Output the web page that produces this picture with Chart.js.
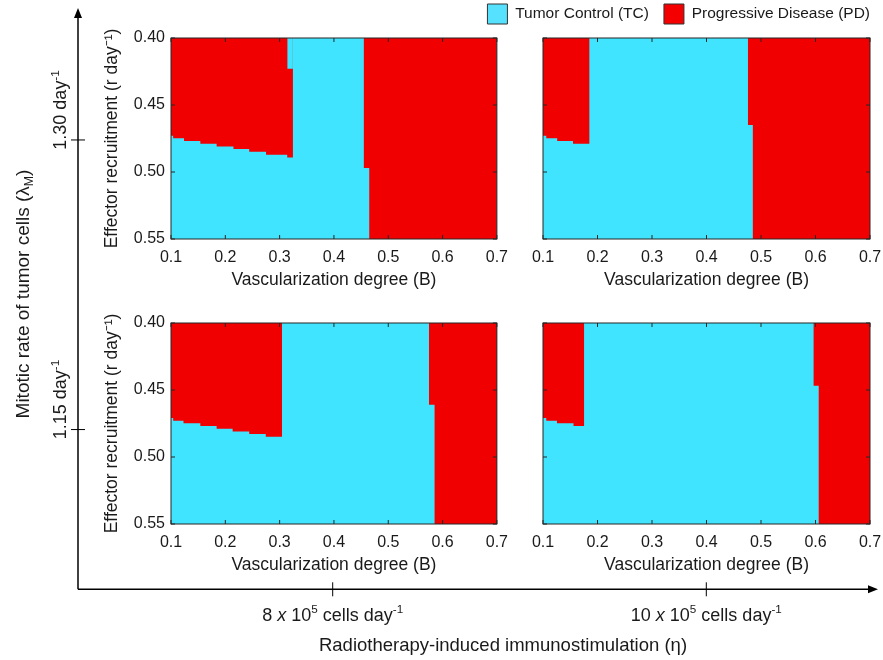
<!DOCTYPE html>
<html><head><meta charset="utf-8">
<script src="https://cdn.jsdelivr.net/npm/chart.js@4.4.1/dist/chart.umd.min.js"></script>
<style>
html,body{margin:0;padding:0;background:#fff;overflow:hidden;width:883px;height:660px;position:relative;}
canvas{position:absolute;}
</style></head><body>
<canvas id="outer" width="890" height="671" style="left:0;top:-11px;width:890px;height:671px"></canvas>
<canvas id="pA" width="420" height="274" style="left:97px;top:20px;width:420px;height:274px"></canvas>
<canvas id="pB" width="380" height="274" style="left:520px;top:20px;width:380px;height:274px"></canvas>
<canvas id="pC" width="420" height="274" style="left:97px;top:305px;width:420px;height:274px"></canvas>
<canvas id="pD" width="380" height="274" style="left:520px;top:305px;width:380px;height:274px"></canvas>
<script>
const FONT = "'Liberation Sans', Arial, Helvetica, sans-serif";
Chart.defaults.font.family = FONT;
Chart.defaults.color = '#1a1a1a';

// ---- axis ticks ----
const bTicks = [0.1, 0.2, 0.3, 0.4, 0.5, 0.6, 0.7];
const rTicks = [0.40, 0.45, 0.50, 0.55];

// ---- colours / legend ----
const tcColor = '#41e4fe';
const pdColor = '#f00000';
const legendLabels = ['Tumor Control (TC)', 'Progressive Disease (PD)'];
const legendColors = ['#56e2ff', '#f50000'];

// ---- outer axes ----
const etaValues = [8, 10];
const etaLabels = [
  [{t:'8 '},{t:'x',it:1},{t:' 10'},{t:'5',sup:1},{t:' cells day'},{t:'-1',sup:1}],
  [{t:'10 '},{t:'x',it:1},{t:' 10'},{t:'5',sup:1},{t:' cells day'},{t:'-1',sup:1}]
];
const lambdaValues = [1.30, 1.15];
const lambdaLabels = [
  [{t:'1.30 day'},{t:'-1',sup:1}],
  [{t:'1.15 day'},{t:'-1',sup:1}]
];
const etaTitle = [{t:'Radiotherapy-induced immunostimulation (η)'}];
const lambdaTitle = [{t:'Mitotic rate of tumor cells (λ'},{t:'M',sub:1},{t:')'}];

// ---- Panel A: λ=1.30, η=8 ----
const pdLeftEdgesA = [0.100, 0.104, 0.124, 0.154, 0.184, 0.215, 0.244, 0.275, 0.314, 0.3245];
const pdLeftLowerA = [0.4729, 0.4749, 0.4769, 0.4789, 0.4809, 0.4828, 0.4848, 0.4871, 0.4891];
const tcNotchEdgesA = [0.314, 0.3245];
const tcNotchLowerA = 0.423;
const pdRightEdgesA = [0.4546, 0.465];
const pdRightSplitA = 0.497;

// ---- Panel B: λ=1.30, η=10 ----
const pdLeftEdgesB = [0.100, 0.106, 0.126, 0.155, 0.1855];
const pdLeftLowerB = [0.4729, 0.4749, 0.4769, 0.4789];
const pdRightEdgesB = [0.4758, 0.485];
const pdRightSplitB = 0.4649;

// ---- Panel C: λ=1.15, η=8 ----
const pdLeftEdgesC = [0.100, 0.104, 0.123, 0.154, 0.184, 0.2135, 0.244, 0.2745, 0.3044];
const pdLeftLowerC = [0.4709, 0.4729, 0.4749, 0.4769, 0.4789, 0.4809, 0.4828, 0.4848];
const pdRightEdgesC = [0.5749, 0.5853];
const pdRightSplitC = 0.461;

// ---- Panel D: λ=1.15, η=10 ----
const pdLeftEdgesD = [0.100, 0.106, 0.1256, 0.156, 0.1757];
const pdLeftLowerD = [0.4709, 0.4729, 0.4749, 0.4769];
const pdRightEdgesD = [0.5961, 0.6059];
const pdRightSplitD = 0.4468;

function panelDatasets(leftEdges, leftLower, rightEdges, rightSplit, notchEdges, notchLower) {
  const rTop = rTicks[0], rBot = rTicks[rTicks.length - 1];
  const bLo = bTicks[0], bHi = bTicks[bTicks.length - 1];
  const base = {type:'line', pointRadius:0, borderWidth:0, borderColor:'rgba(0,0,0,0)', tension:0, fill:{value:rTop}};
  const ds = [];
  ds.push(Object.assign({}, base, {label:'TC', data:[{x:bLo,y:rBot},{x:bHi,y:rBot}], backgroundColor:tcColor, order:4}));
  const left = [];
  for (let i = 0; i < leftLower.length; i++) {
    left.push({x:leftEdges[i], y:leftLower[i]}, {x:leftEdges[i+1], y:leftLower[i]});
  }
  left.push({x:leftEdges[leftEdges.length-1], y:rTop});
  ds.push(Object.assign({}, base, {label:'PD', data:left, backgroundColor:pdColor, order:3}));
  ds.push(Object.assign({}, base, {label:'PD', data:[
    {x:rightEdges[0], y:rTop}, {x:rightEdges[0], y:rightSplit},
    {x:rightEdges[1], y:rightSplit}, {x:rightEdges[1], y:rBot}, {x:bHi, y:rBot}],
    backgroundColor:pdColor, order:2}));
  if (notchEdges) {
    ds.push(Object.assign({}, base, {label:'TC', data:[{x:notchEdges[0], y:notchLower},{x:notchEdges[1], y:notchLower}], backgroundColor:tcColor, order:1}));
  }
  return ds;
}

const boxTicks = {
  id:'boxTicks',
  afterDraw(chart) {
    const {ctx, chartArea:a} = chart;
    const x = chart.scales.x, y = chart.scales.y;
    ctx.save();
    ctx.strokeStyle = '#262626';
    ctx.lineWidth = 1;
    ctx.strokeRect(a.left, a.top, a.right - a.left, a.bottom - a.top);
    ctx.beginPath();
    bTicks.forEach(v => {
      const px = x.getPixelForValue(v);
      ctx.moveTo(px, a.top); ctx.lineTo(px, a.top + 4);
      ctx.moveTo(px, a.bottom); ctx.lineTo(px, a.bottom - 4);
    });
    rTicks.forEach(v => {
      const py = y.getPixelForValue(v);
      ctx.moveTo(a.left, py); ctx.lineTo(a.left + 4, py);
      ctx.moveTo(a.right, py); ctx.lineTo(a.right - 4, py);
    });
    ctx.stroke();
    ctx.restore();
  }
};

function panelOptions(showY, yW, xH, padRight) {
  return {
    responsive:false, animation:false, events:[],
    layout:{padding:{top:18, right:padRight, left:0, bottom:0}},
    plugins:{legend:{display:false}, tooltip:{enabled:false}},
    scales:{
      x:{
        type:'linear', min:bTicks[0], max:bTicks[bTicks.length-1],
        afterBuildTicks: s => { s.ticks = bTicks.map(v => ({value:v})); },
        ticks:{padding:9, maxRotation:0, autoSkip:false, font:{size:16}, color:'#1a1a1a', callback: v => Number(v).toFixed(1)},
        grid:{display:false, drawTicks:false}, border:{display:false},
        title:{display:true, text:'Vascularization degree (B)', color:'#1a1a1a', font:{size:17.5}, padding:{top:0, bottom:3.5}},
        afterFit: s => { s.height = xH; }
      },
      y:{
        type:'linear', reverse:true, min:rTicks[0], max:rTicks[rTicks.length-1],
        afterBuildTicks: s => { s.ticks = rTicks.map(v => ({value:v})); },
        ticks:{display:showY, padding:6, autoSkip:false, font:{size:16}, color:'#1a1a1a', callback: v => Number(v).toFixed(2)},
        grid:{display:false, drawTicks:false}, border:{display:false},
        title:{display:showY, text:'Effector recruitment (r day⁻¹)', color:'#1a1a1a', font:{size:17.5}, padding:{top:4.5, bottom:0}},
        afterFit: s => { s.width = yW; }
      }
    }
  };
}

function makePanel(id, datasets, showY, yW, padRight) {
  new Chart(document.getElementById(id), {
    type:'line',
    data:{datasets},
    options:panelOptions(showY, yW, 55, padRight),
    plugins:[boxTicks]
  });
}

makePanel('pA', panelDatasets(pdLeftEdgesA, pdLeftLowerA, pdRightEdgesA, pdRightSplitA, tcNotchEdgesA, tcNotchLowerA), true, 74, 19);
makePanel('pB', panelDatasets(pdLeftEdgesB, pdLeftLowerB, pdRightEdgesB, pdRightSplitB), false, 23, 30);
makePanel('pC', panelDatasets(pdLeftEdgesC, pdLeftLowerC, pdRightEdgesC, pdRightSplitC), true, 74, 19);
makePanel('pD', panelDatasets(pdLeftEdgesD, pdLeftLowerD, pdRightEdgesD, pdRightSplitD), false, 23, 30);

// ---- rich text helper (super/subscripts) ----
function drawRich(ctx, parts, x, y, size, rot) {
  ctx.save();
  ctx.translate(x, y);
  ctx.rotate(rot);
  const fontFor = p => (p.it ? 'italic ' : '') + ((p.sup || p.sub) ? size * 0.65 : size) + 'px ' + FONT;
  let w = 0;
  const widths = parts.map(p => { ctx.font = fontFor(p); const m = ctx.measureText(p.t).width; w += m; return m; });
  let cx = -w / 2;
  ctx.textAlign = 'left';
  ctx.textBaseline = 'alphabetic';
  ctx.fillStyle = '#1a1a1a';
  const base = size * 0.358;
  parts.forEach((p, i) => {
    ctx.font = fontFor(p);
    const dy = p.sup ? -size * 0.42 : (p.sub ? size * 0.2 : 0);
    ctx.fillText(p.t, cx, base + dy);
    cx += widths[i];
  });
  ctx.restore();
}

const outerFrame = {
  id:'outerFrame',
  afterDraw(chart) {
    const ctx = chart.ctx, a = chart.chartArea;
    const xs = chart.scales.x, ys = chart.scales.y;
    const x0 = a.left, y0 = a.bottom;
    const xTip = a.right - 7, yTip = 19;
    ctx.save();
    ctx.strokeStyle = '#000';
    ctx.fillStyle = '#000';
    ctx.lineWidth = 1.5;
    ctx.beginPath(); ctx.moveTo(x0, y0); ctx.lineTo(xTip - 6, y0); ctx.stroke();
    ctx.beginPath(); ctx.moveTo(xTip, y0); ctx.lineTo(xTip - 10, y0 - 4); ctx.lineTo(xTip - 10, y0 + 4); ctx.closePath(); ctx.fill();
    ctx.beginPath(); ctx.moveTo(x0, y0); ctx.lineTo(x0, yTip + 6); ctx.stroke();
    ctx.beginPath(); ctx.moveTo(x0, yTip); ctx.lineTo(x0 - 4, yTip + 10); ctx.lineTo(x0 + 4, yTip + 10); ctx.closePath(); ctx.fill();
    ctx.lineWidth = 1;
    ctx.beginPath();
    etaValues.forEach(v => { const px = xs.getPixelForValue(v); ctx.moveTo(px, y0 - 7); ctx.lineTo(px, y0 + 7); });
    lambdaValues.forEach(v => { const py = ys.getPixelForValue(v); ctx.moveTo(x0 - 7, py); ctx.lineTo(x0 + 7, py); });
    ctx.stroke();
    ctx.restore();
    etaValues.forEach((v, i) => drawRich(ctx, etaLabels[i], xs.getPixelForValue(v), y0 + 25, 18, 0));
    lambdaValues.forEach((v, i) => drawRich(ctx, lambdaLabels[i], x0 - 18, ys.getPixelForValue(v) - 30, 18, -Math.PI / 2));
    drawRich(ctx, etaTitle, 503, 655, 18.5, 0);
    drawRich(ctx, lambdaTitle, 22, 305, 19, -Math.PI / 2);
  }
};

new Chart(document.getElementById('outer'), {
  type:'line',
  data:{datasets:[
    {label:legendLabels[0], data:[], backgroundColor:legendColors[0], borderColor:'#333', borderWidth:1},
    {label:legendLabels[1], data:[], backgroundColor:legendColors[1], borderColor:'#333', borderWidth:1}
  ]},
  options:{
    responsive:false, animation:false, events:[],
    layout:{padding:{left:78, right:5, top:0, bottom:70.7}},
    plugins:{
      tooltip:{enabled:false},
      legend:{position:'top', align:'end', maxHeight:50,
        labels:{boxWidth:20, boxHeight:20, padding:15, color:'#1a1a1a', font:{size:15.5}}}
    },
    scales:{
      x:{type:'linear', display:false, min:6.63651, max:10.95664},
      y:{type:'linear', display:false, min:1.06726, max:1.35488}
    }
  },
  plugins:[outerFrame]
});
</script>
</body></html>
